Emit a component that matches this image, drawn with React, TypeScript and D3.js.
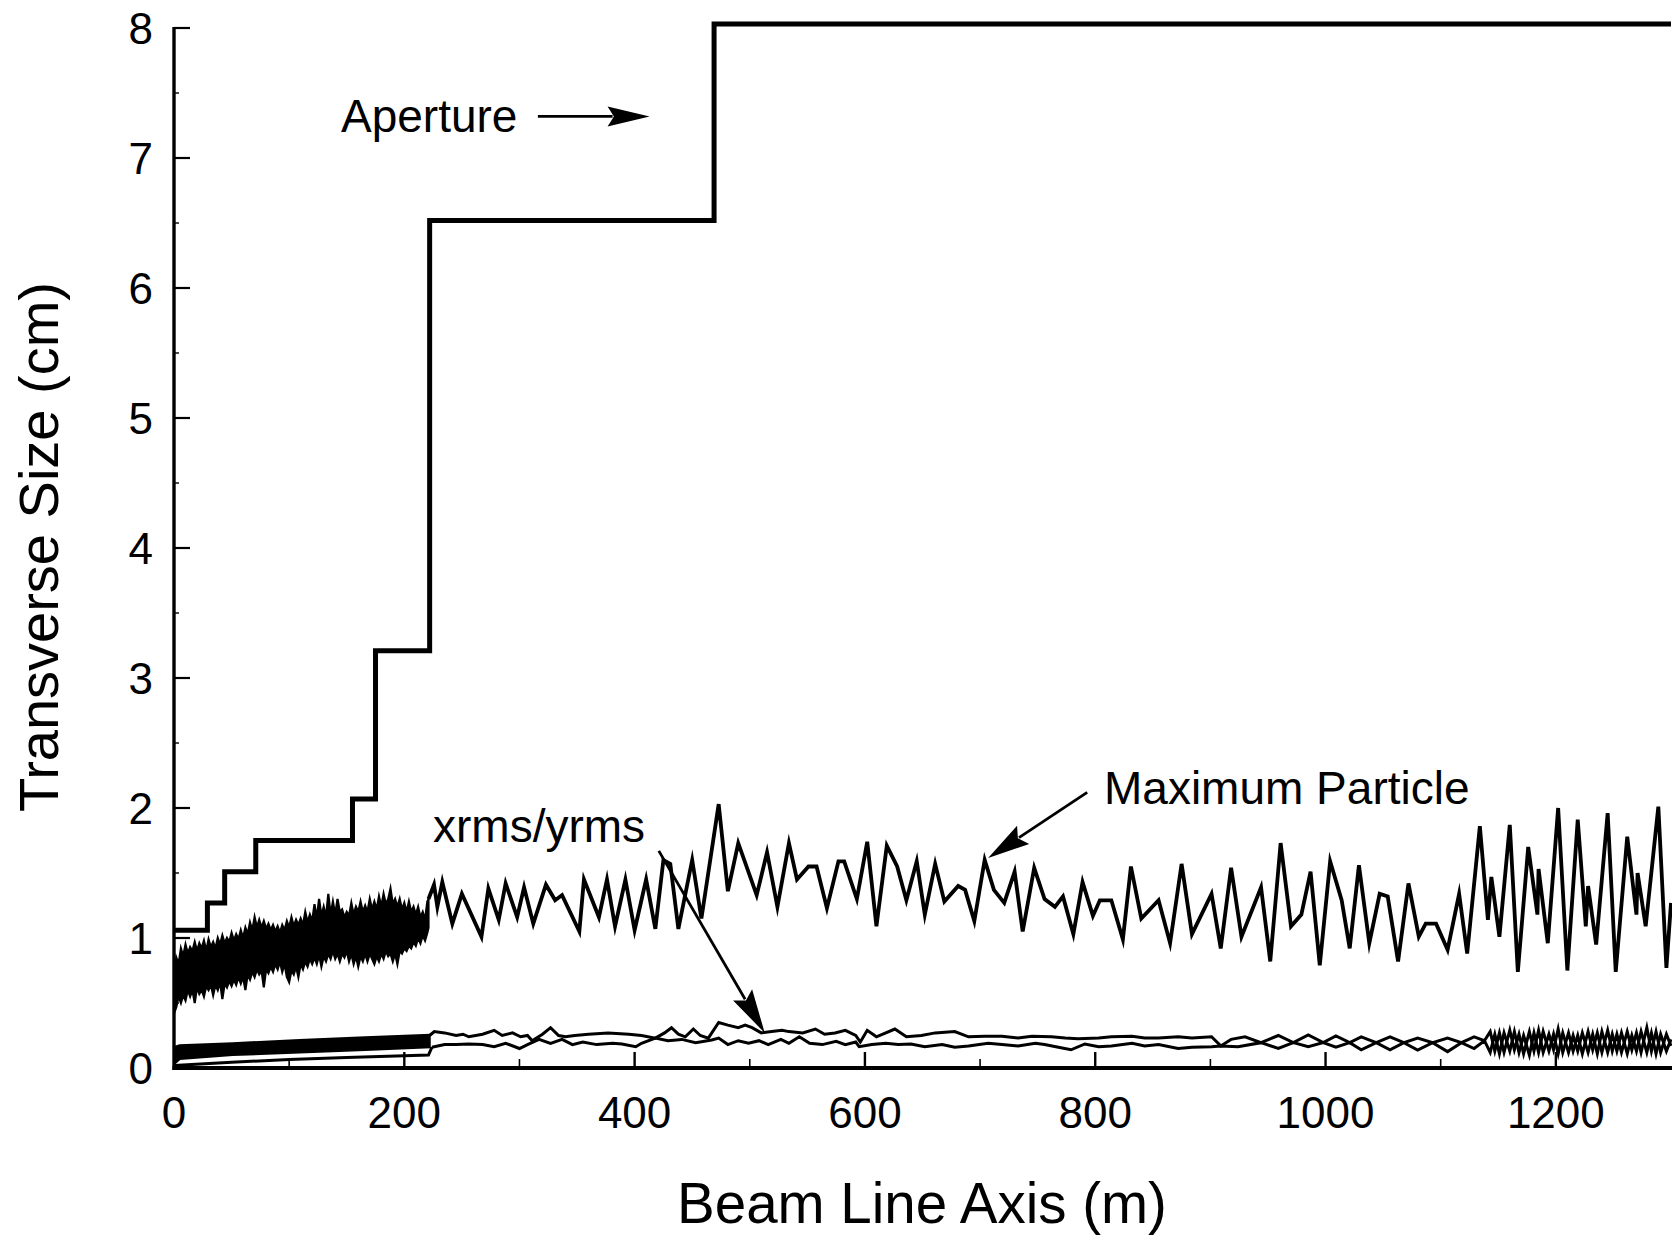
import React from "react";
import * as d3 from "d3";

const W = 1672;
const H = 1238;

// axis ticks
const xMajorTicks = [0, 200, 400, 600, 800, 1000, 1200];
const xMinorTicks = [100, 300, 500, 700, 900, 1100];
const yMajorTicks = [0, 1, 2, 3, 4, 5, 6, 7, 8];
const yMinorTicks = [0.5, 1.5, 2.5, 3.5, 4.5, 5.5, 6.5, 7.5];

// Aperture (step function): [m, cm]
const aperture: [number, number][] = [
  [0, 1.06], [29, 1.27], [44, 1.51], [71, 1.75], [155, 2.07], [175, 3.21],
  [222, 6.52], [469, 8.03], [1300, 8.03],
];

// Maximum particle, dense part: [m, upper, lower]
const maxDense: [number, number, number][] = [
  [0, 0.7, 0.42], [2, 0.85, 0.47], [4, 0.8, 0.55], [6, 0.92, 0.5], [8, 0.86, 0.56], [10, 0.95, 0.52],
  [12, 0.88, 0.6], [14, 0.93, 0.55], [16, 0.9, 0.6], [18, 0.97, 0.5], [20, 0.9, 0.62], [22, 0.96, 0.57],
  [24, 0.92, 0.6], [26, 0.98, 0.55], [28, 0.9, 0.63], [30, 0.99, 0.6], [32, 0.93, 0.64], [34, 0.97, 0.56],
  [36, 0.92, 0.64], [38, 1.0, 0.6], [40, 0.95, 0.66], [42, 1.02, 0.53], [44, 0.96, 0.65], [46, 1.0, 0.62],
  [48, 0.97, 0.67], [50, 1.04, 0.63], [52, 0.98, 0.68], [54, 1.03, 0.64], [56, 0.99, 0.7], [58, 1.06, 0.65],
  [60, 1.0, 0.7], [62, 1.08, 0.6], [64, 1.03, 0.72], [66, 1.12, 0.68], [68, 1.06, 0.74], [70, 1.16, 0.7],
  [72, 1.08, 0.76], [74, 1.14, 0.72], [76, 1.08, 0.75], [78, 1.13, 0.62], [80, 1.07, 0.76], [82, 1.11, 0.73],
  [84, 1.06, 0.78], [86, 1.1, 0.74], [88, 1.05, 0.8], [90, 1.09, 0.76], [92, 1.04, 0.82], [94, 1.1, 0.74],
  [96, 1.06, 0.8], [98, 1.13, 0.7], [100, 1.08, 0.66], [102, 1.16, 0.75], [104, 1.09, 0.72], [106, 1.14, 0.78],
  [108, 1.1, 0.7], [110, 1.15, 0.8], [112, 1.1, 0.76], [114, 1.2, 0.82], [116, 1.12, 0.78], [118, 1.18, 0.84],
  [120, 1.13, 0.8], [122, 1.26, 0.85], [124, 1.15, 0.8], [126, 1.3, 0.87], [128, 1.17, 0.78], [130, 1.24, 0.86],
  [132, 1.16, 0.82], [134, 1.34, 0.88], [136, 1.18, 0.84], [138, 1.28, 0.9], [140, 1.18, 0.84], [142, 1.3, 0.88],
  [144, 1.2, 0.82], [146, 1.22, 0.88], [148, 1.16, 0.85], [150, 1.2, 0.9], [152, 1.17, 0.82], [154, 1.27, 0.88],
  [156, 1.18, 0.8], [158, 1.24, 0.86], [160, 1.2, 0.78], [162, 1.28, 0.86], [164, 1.2, 0.82], [166, 1.25, 0.88],
  [168, 1.2, 0.82], [170, 1.3, 0.88], [172, 1.22, 0.84], [174, 1.28, 0.8], [176, 1.22, 0.86], [178, 1.32, 0.82],
  [180, 1.24, 0.88], [182, 1.34, 0.84], [184, 1.26, 0.9], [186, 1.3, 0.86], [188, 1.38, 0.88], [190, 1.26, 0.82],
  [192, 1.3, 0.88], [194, 1.24, 0.8], [196, 1.3, 0.9], [198, 1.22, 0.88], [200, 1.27, 0.92], [202, 1.2, 0.9],
  [204, 1.28, 0.94], [206, 1.2, 0.92], [208, 1.24, 0.97], [210, 1.18, 0.94], [212, 1.24, 1.0], [214, 1.16, 0.96],
  [216, 1.2, 1.02], [218, 1.14, 0.98], [220, 1.28, 1.04], [221, 1.3, 1.08],
];

// Maximum particle, resolved part: [m, cm]
const maxLine: [number, number][] = [
  [221, 1.3], [225.8, 1.41], [228.7, 1.24], [233, 1.43], [241.7, 1.11], [250, 1.34],
  [267, 1.01], [273, 1.38], [282, 1.14], [288, 1.42], [298, 1.16], [304, 1.39],
  [312, 1.11], [323, 1.41], [331, 1.29], [337, 1.33], [352, 1.05], [356, 1.45],
  [369, 1.16], [376, 1.45], [383, 1.09], [392, 1.45], [400, 1.06], [410, 1.45],
  [418, 1.07], [425, 1.6], [431, 1.57], [438, 1.07], [450, 1.6], [458, 1.15],
  [473, 2.03], [481, 1.36], [490, 1.73], [506, 1.33], [515, 1.66], [524, 1.24],
  [534, 1.73], [541, 1.45], [551, 1.55], [558, 1.55], [567, 1.23], [577, 1.59],
  [582, 1.59], [593, 1.3], [602, 1.74], [610, 1.09], [619, 1.71], [628, 1.55],
  [636, 1.29], [645, 1.59], [652, 1.18], [661, 1.57], [669, 1.28], [681, 1.4],
  [687, 1.37], [695, 1.13], [704, 1.6], [712, 1.37], [721, 1.27], [730, 1.51],
  [737, 1.05], [747, 1.54], [756, 1.3], [765, 1.24], [772, 1.32], [781, 1.03],
  [789, 1.43], [798, 1.17], [804, 1.29], [814, 1.29], [824, 0.99], [831, 1.55],
  [840, 1.15], [855, 1.29], [865, 0.96], [875, 1.57], [884, 1.03], [901, 1.34],
  [909, 0.92], [918, 1.54], [927, 1.01], [944, 1.39], [952, 0.82], [961, 1.73],
  [970, 1.09], [979, 1.18], [987, 1.51], [995, 0.79], [1004, 1.59], [1014, 1.29],
  [1021, 0.92], [1029, 1.56], [1038, 0.96], [1047, 1.34], [1054, 1.32], [1063, 0.82],
  [1072, 1.42], [1081, 1.01], [1087, 1.11], [1096, 1.11], [1106, 0.91], [1116, 1.34],
  [1123, 0.88], [1134, 1.86], [1141, 1.14], [1144, 1.47], [1151, 1.01], [1160, 1.87],
  [1167, 0.74], [1176, 1.7], [1184, 1.18], [1185, 1.53], [1193, 0.96], [1202, 2.0],
  [1210, 0.75], [1219, 1.91], [1226, 1.09], [1228, 1.4], [1235, 0.95], [1245, 1.96],
  [1252, 0.74], [1262, 1.78], [1270, 1.18], [1271, 1.5], [1278, 1.09], [1289, 2.01],
  [1296, 0.77], [1300, 1.27],
];

// rms, dense part: [m, upper, lower]
const rmsDense: [number, number, number][] = [
  [0, 0.16, 0.03], [5, 0.175, 0.07], [51, 0.19, 0.1], [109, 0.215, 0.12],
  [166, 0.235, 0.14], [222, 0.255, 0.16],
];
// thin lower trace under the dense rms band
const rmsThin: [number, number][] = [
  [0, 0.02], [50, 0.045], [100, 0.065], [150, 0.08], [200, 0.095], [221, 0.1], [224, 0.16],
];

// xrms (upper trace)
const rmsA: [number, number][] = [
  [222, 0.25], [226, 0.28], [235, 0.27], [245, 0.25], [251, 0.26], [256, 0.24], [268, 0.26],
  [278, 0.29], [285, 0.25], [294, 0.27], [301, 0.24], [307, 0.25], [311, 0.21], [320, 0.26],
  [327, 0.31], [334, 0.25], [340, 0.24], [348, 0.25], [360, 0.26], [377, 0.27], [395, 0.26],
  [406, 0.25], [418, 0.23], [426, 0.27], [432, 0.31], [438, 0.26], [444, 0.24], [451, 0.3],
  [457, 0.25], [464, 0.23], [473, 0.35], [481, 0.33], [490, 0.31], [496, 0.33], [502, 0.31],
  [510, 0.27], [519, 0.28], [528, 0.29], [534, 0.28], [546, 0.27], [557, 0.3], [565, 0.26],
  [574, 0.27], [583, 0.29], [592, 0.25], [596, 0.2], [602, 0.29], [610, 0.24], [626, 0.3],
  [636, 0.24], [649, 0.25], [661, 0.27], [678, 0.28], [690, 0.24], [704, 0.245], [719, 0.245],
  [733, 0.23], [745, 0.245], [762, 0.24], [774, 0.23], [785, 0.225], [803, 0.23], [814, 0.24],
  [832, 0.245], [843, 0.23], [855, 0.23], [872, 0.24], [884, 0.23], [901, 0.24], [909, 0.17],
  [918, 0.22], [930, 0.24], [944, 0.195], [959, 0.25], [972, 0.195], [985, 0.254], [998, 0.195],
  [1009, 0.246], [1021, 0.195], [1031, 0.24], [1044, 0.195], [1056, 0.24], [1068, 0.195],
  [1080, 0.23], [1093, 0.195], [1106, 0.23], [1118, 0.195], [1129, 0.24], [1138, 0.21],
  [1143, 0.28], [1147, 0.13], [1151, 0.27], [1155, 0.12], [1160, 0.29], [1164, 0.14],
  [1168, 0.26], [1172, 0.11], [1177, 0.28], [1181, 0.13], [1185, 0.29], [1189, 0.12],
  [1194, 0.26], [1198, 0.14], [1202, 0.3], [1206, 0.12], [1211, 0.27], [1215, 0.13],
  [1219, 0.25], [1223, 0.11], [1228, 0.28], [1232, 0.14], [1236, 0.27], [1240, 0.12],
  [1245, 0.29], [1249, 0.13], [1253, 0.26], [1257, 0.12], [1262, 0.28], [1266, 0.14],
  [1270, 0.27], [1274, 0.12], [1279, 0.31], [1283, 0.13], [1287, 0.28], [1291, 0.12],
  [1296, 0.26], [1300, 0.17],
];

// yrms (lower trace)
const rmsB: [number, number][] = [
  [224, 0.16], [235, 0.18], [245, 0.18], [256, 0.185], [268, 0.18], [278, 0.164], [288, 0.19],
  [300, 0.15], [307, 0.18], [317, 0.22], [327, 0.19], [337, 0.22], [346, 0.18], [355, 0.2],
  [367, 0.18], [381, 0.19], [389, 0.185], [401, 0.164], [406, 0.19], [418, 0.23], [429, 0.21],
  [441, 0.22], [453, 0.195], [467, 0.215], [473, 0.23], [481, 0.18], [490, 0.21], [499, 0.19],
  [508, 0.21], [516, 0.18], [527, 0.22], [534, 0.19], [543, 0.24], [552, 0.19], [563, 0.18],
  [575, 0.205], [583, 0.18], [592, 0.2], [595, 0.164], [606, 0.18], [618, 0.19], [629, 0.18],
  [640, 0.185], [652, 0.164], [667, 0.18], [678, 0.16], [690, 0.17], [707, 0.19], [719, 0.18],
  [733, 0.17], [748, 0.19], [756, 0.18], [768, 0.16], [779, 0.14], [791, 0.185], [803, 0.164],
  [814, 0.17], [832, 0.19], [843, 0.17], [855, 0.18], [872, 0.15], [884, 0.16], [901, 0.164],
  [909, 0.17], [924, 0.164], [944, 0.195], [959, 0.15], [972, 0.195], [985, 0.164], [998, 0.195],
  [1009, 0.16], [1021, 0.195], [1031, 0.14], [1044, 0.195], [1056, 0.14], [1068, 0.195],
  [1080, 0.138], [1093, 0.195], [1106, 0.126], [1118, 0.195], [1129, 0.15], [1138, 0.21],
  [1143, 0.12], [1147, 0.26], [1151, 0.11], [1155, 0.27], [1160, 0.13], [1164, 0.28],
  [1168, 0.12], [1172, 0.25], [1177, 0.1], [1181, 0.27], [1185, 0.12], [1189, 0.28],
  [1194, 0.13], [1198, 0.26], [1202, 0.11], [1206, 0.27], [1211, 0.12], [1215, 0.25],
  [1219, 0.13], [1223, 0.27], [1228, 0.12], [1232, 0.26], [1236, 0.11], [1240, 0.28],
  [1245, 0.12], [1249, 0.26], [1253, 0.13], [1257, 0.27], [1262, 0.11], [1266, 0.25],
  [1270, 0.13], [1274, 0.28], [1279, 0.12], [1283, 0.27], [1287, 0.11], [1291, 0.26],
  [1296, 0.13], [1300, 0.22],
];

// annotations in data units: [m, cm]
const apertureArrow: [number, number][] = [[316, 7.32], [413, 7.32]];
const rmsArrow: [number, number][] = [[421, 1.67], [513, 0.27]];
const maxArrow: [number, number][] = [[793, 2.12], [707, 1.615]];

const FONT = "'Liberation Sans', Arial, Helvetica, sans-serif";

function Arrow({ from, to, len, half }: { from: [number, number]; to: [number, number]; len: number; half: number }) {
  const dx = to[0] - from[0];
  const dy = to[1] - from[1];
  const d = Math.hypot(dx, dy);
  const ux = dx / d, uy = dy / d;
  const bx = to[0] - ux * len, by = to[1] - uy * len;
  const px = -uy, py = ux;
  const pts = [
    [to[0], to[1]],
    [bx + px * half, by + py * half],
    [bx + ux * len * 0.15, by + uy * len * 0.15],
    [bx - px * half, by - py * half],
  ];
  return (
    <g>
      <line x1={from[0]} y1={from[1]} x2={bx + ux * 5} y2={by + uy * 5} stroke="#000" strokeWidth={2.8} />
      <polygon points={pts.map((p) => p.join(",")).join(" ")} fill="#000" />
    </g>
  );
}

export default function App() {
  const x = d3.scaleLinear().domain([0, 1300]).range([174, 1671]);
  const y = d3.scaleLinear().domain([0, 8]).range([1068, 28]);

  const line = d3.line<[number, number]>().x((d) => x(d[0])).y((d) => y(d[1]));
  const stepLine = d3
    .line<[number, number]>()
    .x((d) => x(d[0]))
    .y((d) => y(d[1]))
    .curve(d3.curveStepAfter);
  const band = d3
    .area<[number, number, number]>()
    .x((d) => x(d[0]))
    .y0((d) => y(d[2]))
    .y1((d) => y(d[1]));

  const P = (d: [number, number]): [number, number] => [x(d[0]), y(d[1])];

  return (
    <svg
      width={W}
      height={H}
      viewBox={`0 0 ${W} ${H}`}
      style={{ position: "absolute", left: 0, top: 0, background: "#fff" }}
      fontFamily={FONT}
    >
      <rect x={0} y={0} width={W} height={H} fill="#fff" />
      <defs>
        <clipPath id="plot">
          <rect x={x(0)} y={0} width={W - x(0)} height={y(0) + 2} />
        </clipPath>
      </defs>

      <g clipPath="url(#plot)" fill="none" strokeLinejoin="miter" strokeMiterlimit={6}>
        {/* Aperture */}
        <path d={stepLine(aperture) || ""} stroke="#000" strokeWidth={5} />
        {/* Maximum particle */}
        <path d={band(maxDense) || ""} fill="#000" stroke="#000" strokeWidth={2.2} />
        <path d={line(maxLine) || ""} stroke="#000" strokeWidth={3.8} />
        {/* rms */}
        <path d={band(rmsDense) || ""} fill="#000" stroke="#000" strokeWidth={2.2} />
        <path d={line(rmsThin) || ""} stroke="#000" strokeWidth={3} />
        <path d={line(rmsA) || ""} stroke="#000" strokeWidth={3} />
        <path d={line(rmsB) || ""} stroke="#000" strokeWidth={3} />
      </g>

      {/* axes */}
      <line x1={x(0)} y1={y(8) - 1} x2={x(0)} y2={y(0) + 2} stroke="#000" strokeWidth={3.4} />
      <line x1={x(0) - 1.5} y1={y(0)} x2={W} y2={y(0)} stroke="#000" strokeWidth={3.8} />
      {yMajorTicks.filter((t) => t > 0).map((t) => (
        <line key={"ym" + t} x1={x(0)} x2={x(0) + 16} y1={y(t)} y2={y(t)} stroke="#000" strokeWidth={2.2} />
      ))}
      {yMinorTicks.map((t) => (
        <line key={"yn" + t} x1={x(0)} x2={x(0) + 5} y1={y(t)} y2={y(t)} stroke="#000" strokeWidth={1.4} />
      ))}
      {xMajorTicks.filter((t) => t > 0).map((t) => (
        <line key={"xm" + t} x1={x(t)} x2={x(t)} y1={y(0)} y2={y(0) - 16} stroke="#000" strokeWidth={2.4} />
      ))}
      {xMinorTicks.map((t) => (
        <line key={"xn" + t} x1={x(t)} x2={x(t)} y1={y(0)} y2={y(0) - 9} stroke="#000" strokeWidth={1.6} />
      ))}

      {yMajorTicks.map((t) => (
        <text key={"yl" + t} x={153} y={y(t)} dy="0.36em" textAnchor="end" fontSize={44} fill="#000">
          {t}
        </text>
      ))}
      {xMajorTicks.map((t) => (
        <text key={"xl" + t} x={x(t)} y={1128} textAnchor="middle" fontSize={44} fill="#000">
          {t}
        </text>
      ))}

      {/* axis titles */}
      <text x={922} y={1223} textAnchor="middle" fontSize={56.5} fill="#000">
        Beam Line Axis (m)
      </text>
      <text transform="translate(58,547) rotate(-90)" textAnchor="middle" fontSize={56} fill="#000">
        Transverse Size (cm)
      </text>

      {/* annotations */}
      <text x={341} y={132} fontSize={46} fill="#000">Aperture</text>
      <Arrow from={P(apertureArrow[0])} to={P(apertureArrow[1])} len={42} half={10} />

      <text x={433} y={842} fontSize={46} fill="#000">xrms/yrms</text>
      <Arrow from={P(rmsArrow[0])} to={P(rmsArrow[1])} len={44} half={11} />

      <text x={1104} y={804} fontSize={46} fill="#000">Maximum Particle</text>
      <Arrow from={P(maxArrow[0])} to={P(maxArrow[1])} len={42} half={11} />
    </svg>
  );
}
